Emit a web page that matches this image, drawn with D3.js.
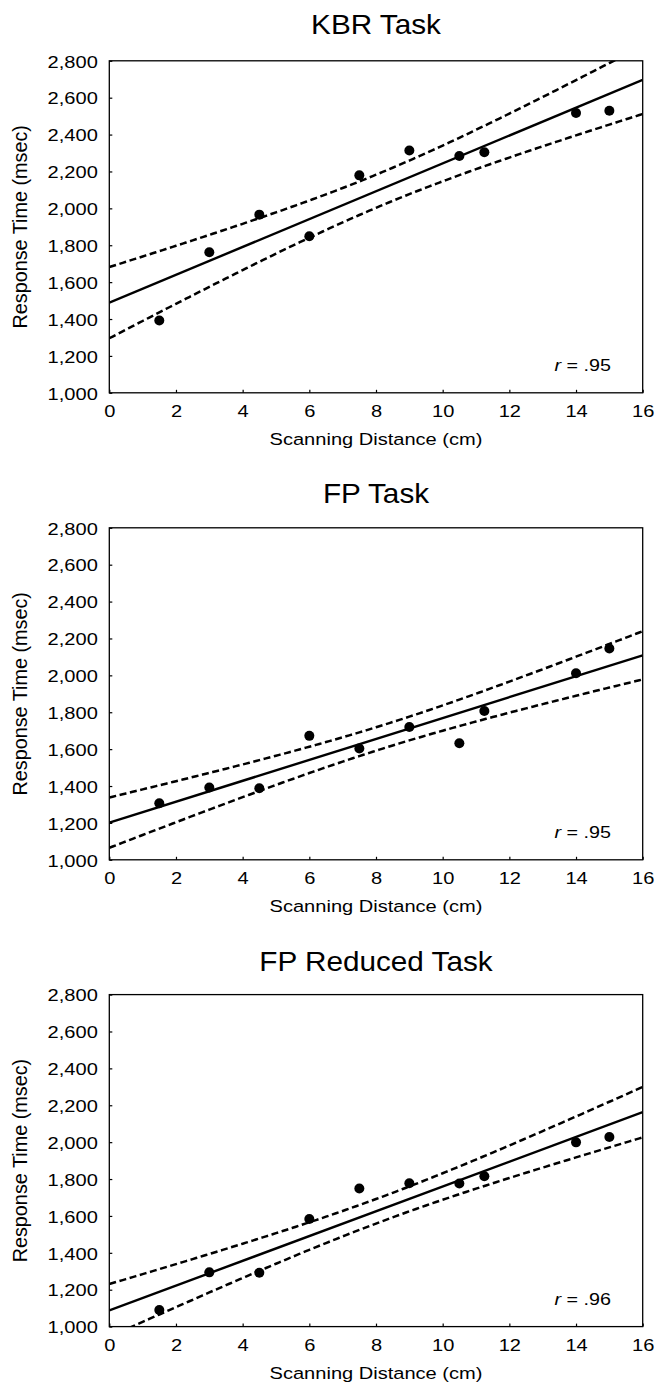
<!DOCTYPE html>
<html>
<head>
<meta charset="utf-8">
<script src="https://cdn.jsdelivr.net/npm/d3@7"></script>
<style>
  html, body { margin: 0; padding: 0; background: #fff; }
  svg { display: block; }
  text { font-family: "Liberation Sans", Arial, Helvetica, sans-serif; fill: #000; }
</style>
</head>
<body>
<svg id="chart" width="655" height="1389"></svg>
<script>
// ---- data ----
const distances = [1.5, 3, 4.5, 6, 7.5, 9, 10.5, 11.25, 14, 15];          // cm
const kbrRT = [1392, 1762, 1966, 1849, 2179, 2314, 2284, 2304, 2517, 2529];     // msec
const fpRT = [1307, 1392, 1388, 1672, 1603, 1720, 1632, 1807, 2011, 2146];
const fpReducedRT = [1090, 1294, 1292, 1583, 1749, 1777, 1776, 1815, 1999, 2028];
const panelTitles = ["KBR Task", "FP Task", "FP Reduced Task"];
const rValues = [".95", ".95", ".96"];
const xTickValues = [0, 2, 4, 6, 8, 10, 12, 14, 16];
const yTickValues = [1000, 1200, 1400, 1600, 1800, 2000, 2200, 2400, 2600, 2800];
const xAxisTitle = "Scanning Distance (cm)";
const yAxisTitle = "Response Time (msec)";
const seriesList = [kbrRT, fpRT, fpReducedRT];

// ---- layout ----
const svg = d3.select("#chart");
const left = 109.3, right = 642.7, plotH = 332;
const tops = [60.8, 527.8, 994.6];
const titleBase = [34, 503, 971];
const SX = 1.16; // horizontal stretch of glyphs in the reference

const x = d3.scaleLinear().domain([0, 16]).range([left, right]);

// least-squares fit with 95% confidence band of the mean
function fit(xs, ys) {
  const n = xs.length;
  const mx = d3.mean(xs), my = d3.mean(ys);
  let sxx = 0, sxy = 0;
  for (let i = 0; i < n; i++) { sxx += (xs[i] - mx) ** 2; sxy += (xs[i] - mx) * (ys[i] - my); }
  const b = sxy / sxx, a = my - b * mx;
  let sse = 0;
  for (let i = 0; i < n; i++) sse += (ys[i] - (a + b * xs[i])) ** 2;
  const s = Math.sqrt(sse / (n - 2));
  const t = 2.306; // t(0.975, df = 8)
  return {
    yhat: v => a + b * v,
    half: v => t * s * Math.sqrt(1 / n + (v - mx) ** 2 / sxx)
  };
}

const fine = d3.range(0, 16.0001, 0.1);

seriesList.forEach((series, p) => {
  const top = tops[p], bottom = top + plotH;
  const y = d3.scaleLinear().domain([1000, 2800]).range([bottom, top]);
  const g = svg.append("g");

  // title
  g.append("text")
    .attr("transform", `translate(${(left + right) / 2},${titleBase[p]}) scale(1.1,1)`)
    .attr("text-anchor", "middle")
    .style("font-size", "27px")
    .text(panelTitles[p]);

  // clip
  const clipId = "clip" + p;
  g.append("clipPath").attr("id", clipId)
    .append("rect").attr("x", left).attr("y", top).attr("width", right - left).attr("height", plotH);

  // axes (inner ticks)
  const yAxis = d3.axisLeft(y).tickValues(yTickValues).tickFormat(d3.format(","))
    .tickSizeInner(-3).tickSizeOuter(0).tickPadding(0);
  const ya = g.append("g").attr("transform", `translate(${left},0)`).call(yAxis);
  ya.select(".domain").remove();
  ya.selectAll("line").attr("stroke", "#000").attr("stroke-width", 1.2);
  ya.selectAll("text").attr("x", null).attr("dy", "0.36em")
    .attr("transform", `translate(-11.5,0) scale(${SX},1)`)
    .style("font-size", "17.3px").attr("fill", "#000");

  const xAxis = d3.axisBottom(x).tickValues(xTickValues).tickFormat(d3.format("d"))
    .tickSizeInner(-3).tickSizeOuter(0).tickPadding(0);
  const xa = g.append("g").attr("transform", `translate(0,${bottom})`).call(xAxis);
  xa.select(".domain").remove();
  xa.selectAll("line").attr("stroke", "#000").attr("stroke-width", 1.2);
  xa.selectAll("text").attr("y", null).attr("dy", null)
    .attr("transform", `translate(0,24.6) scale(${SX},1)`)
    .style("font-size", "17.3px").attr("fill", "#000");

  // axis titles
  g.append("text")
    .attr("transform", `translate(${(left + right) / 2},${bottom + 52}) scale(${SX},1)`)
    .attr("text-anchor", "middle").style("font-size", "17.3px")
    .text(xAxisTitle);
  g.append("text")
    .attr("transform", `translate(27,${(top + bottom) / 2}) rotate(-90) scale(1,1.05)`)
    .attr("text-anchor", "middle").style("font-size", "19.8px")
    .text(yAxisTitle);

  // regression + confidence band
  const f = fit(distances, series);
  const plotG = g.append("g").attr("clip-path", `url(#${clipId})`);
  const lineGen = d3.line().x(d => x(d[0])).y(d => y(d[1]));
  plotG.append("path")
    .attr("d", lineGen(fine.map(v => [v, f.yhat(v) + f.half(v)])))
    .attr("fill", "none").attr("stroke", "#000").attr("stroke-width", 2.5)
    .attr("stroke-dasharray", "7,3.6");
  plotG.append("path")
    .attr("d", lineGen(fine.map(v => [v, f.yhat(v) - f.half(v)])))
    .attr("fill", "none").attr("stroke", "#000").attr("stroke-width", 2.5)
    .attr("stroke-dasharray", "7,3.6");
  plotG.append("path")
    .attr("d", lineGen([0, 16].map(v => [v, f.yhat(v)])))
    .attr("fill", "none").attr("stroke", "#000").attr("stroke-width", 2.4);

  // points
  g.selectAll("circle.pt").data(distances.map((d, i) => [d, series[i]]))
    .enter().append("circle").attr("class", "pt")
    .attr("cx", d => x(d[0])).attr("cy", d => y(d[1])).attr("r", 5)
    .attr("fill", "#000");

  // frame
  g.append("rect").attr("x", left).attr("y", top).attr("width", right - left).attr("height", plotH)
    .attr("fill", "none").attr("stroke", "#000").attr("stroke-width", 1.3);

  // r annotation
  const rt = g.append("text")
    .attr("transform", `translate(611,${bottom - 22}) scale(${SX},1)`)
    .attr("text-anchor", "end").style("font-size", "17px");
  rt.append("tspan").style("font-style", "italic").text("r");
  rt.append("tspan").text(" = " + rValues[p]);
});
</script>
</body>
</html>
